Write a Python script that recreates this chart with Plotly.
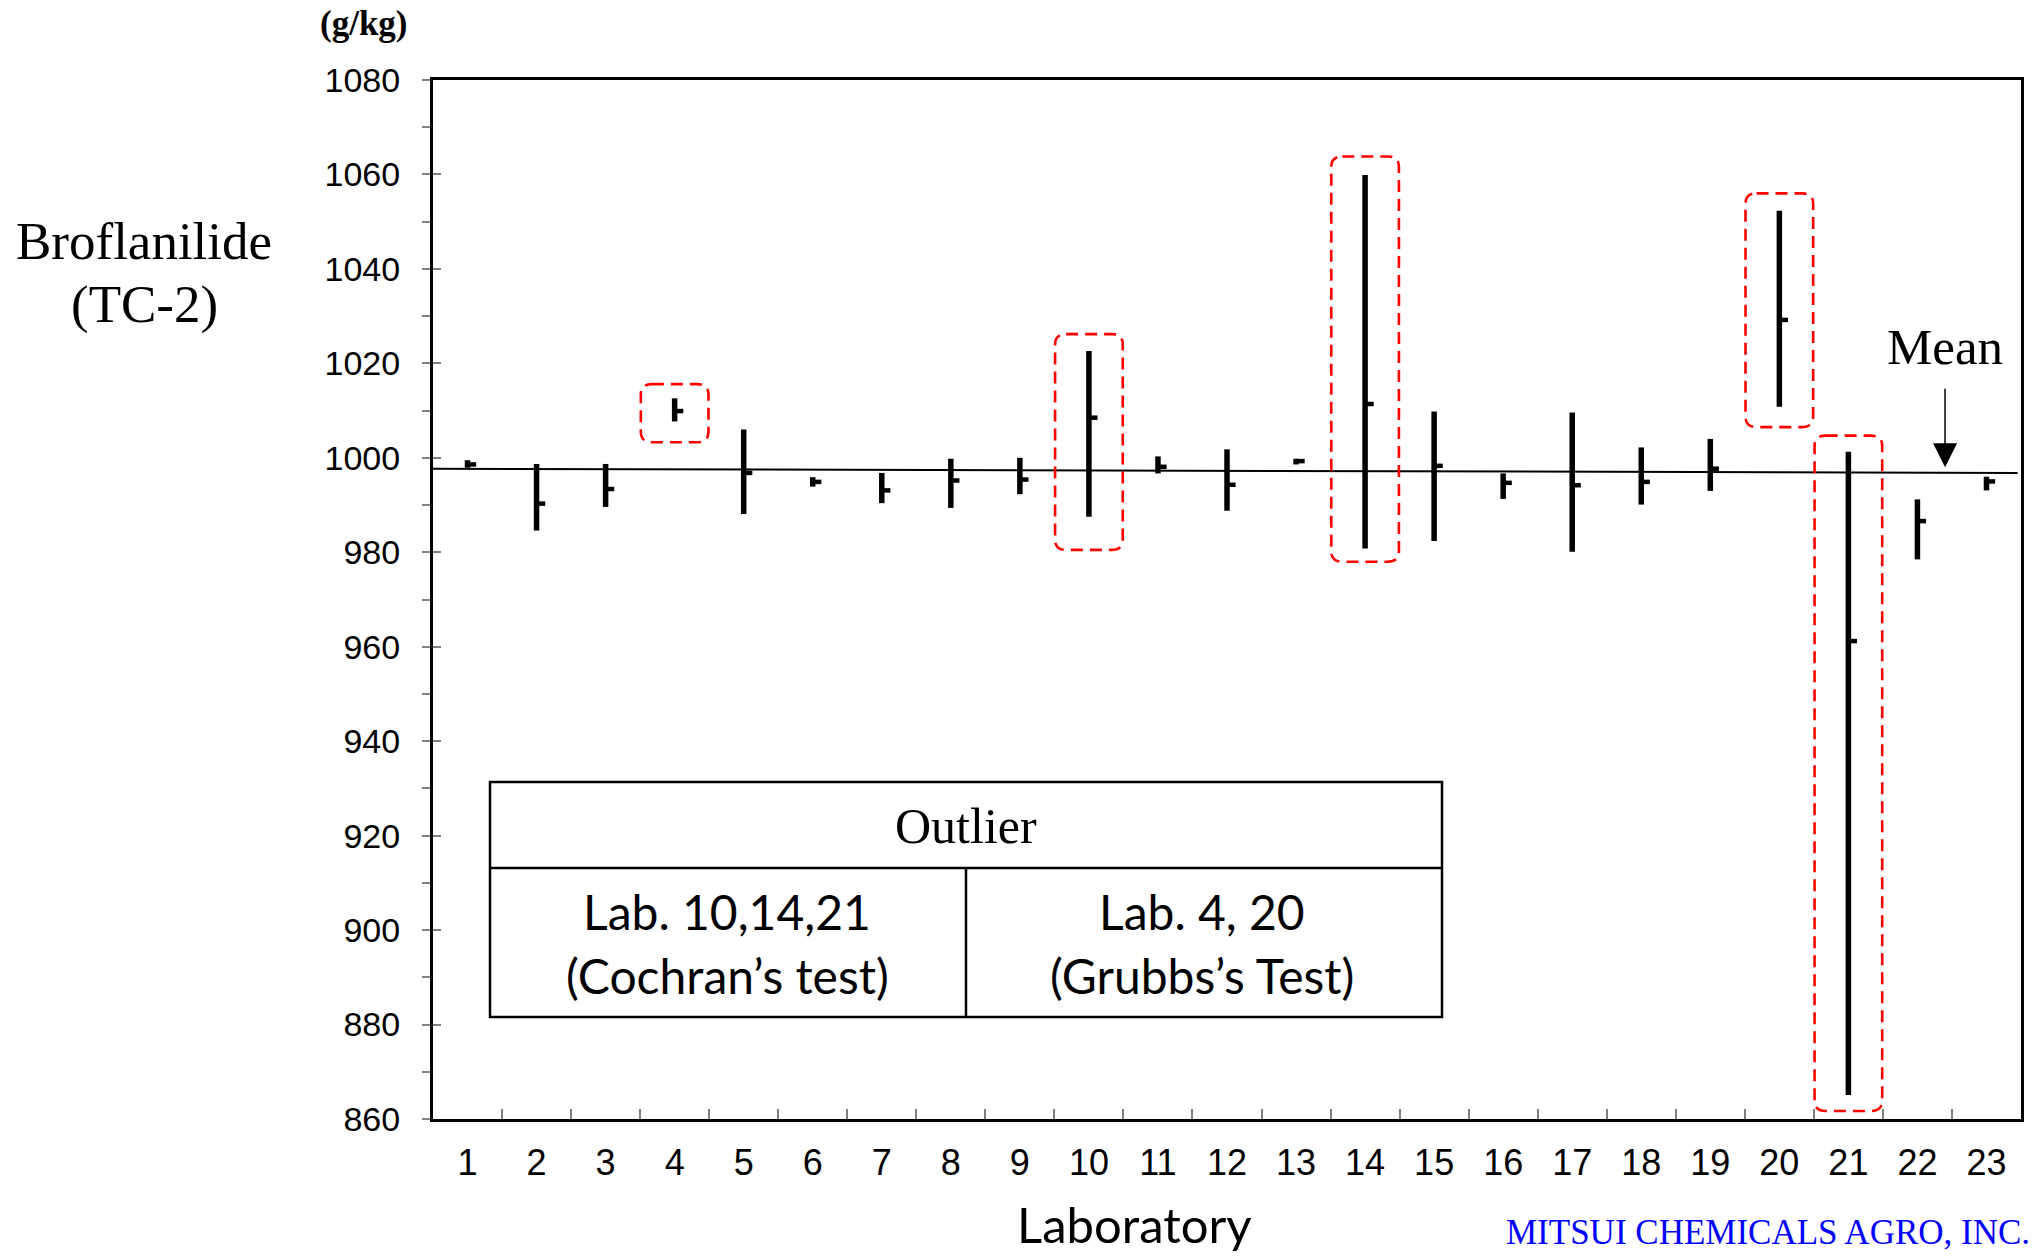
import plotly.graph_objects as go

# ---------------- data ----------------
labs = list(range(1, 24))
tick_labels = [str(i) for i in labs]
lab_max = [999.5, 998.7, 998.7, 1012.6, 1006.0, 995.9, 996.8, 999.8, 1000.0, 1022.6,
           1000.3, 1001.8, 999.8, 1059.9, 1009.8, 996.7, 1009.6, 1002.2, 1004.0, 1052.3,
           1001.3, 991.2, 996.0]
lab_min = [997.9, 984.6, 989.6, 1007.7, 988.1, 993.9, 990.4, 989.4, 992.3, 987.5,
           996.7, 988.8, 998.6, 980.8, 982.4, 991.3, 980.1, 990.1, 993.0, 1010.8,
           865.1, 978.5, 993.1]
lab_mean = [998.6, 990.3, 993.4, 1009.9, 996.8, 994.9, 993.1, 995.2, 995.4, 1008.5,
            998.1, 994.3, 999.3, 1011.4, 998.3, 994.7, 994.2, 994.9, 997.7, 1029.2,
            961.2, 986.6, 995.0]
grand_mean_ends = [997.7, 996.8]
mean_arrow_lab = 22.4
mean_arrow_tip = 998.0
outlier_labs = [4, 10, 14, 20, 21]
box_top = [1015.6, 1026.2, 1063.8, 1056.0, 1004.7]
box_bottom = [1003.3, 980.5, 978.0, 1006.5, 861.7]
y_ticks = list(range(860, 1081, 20))
cochran_labs = "Lab. 10,14,21"
grubbs_labs = "Lab. 4, 20"

# ---------------- geometry ----------------
W, H = 2044, 1256
L, R, T, B = 433, 23, 80, 137
PW, PH = W - L - R, H - T - B


def px(x):
    return (x - L) / PW


def py(y):
    return 1 - (y - T) / PH


TICK_LEN = 0.125
SERIF = "Liberation Serif"
SANS = "Liberation Sans"
HUMAN = "Lato"

fig = go.Figure()

# range bars
bx, by = [], []
for x, lo, hi in zip(labs, lab_min, lab_max):
    bx += [x, x, None]
    by += [lo, hi, None]
fig.add_trace(go.Scatter(x=bx, y=by, mode="lines", line=dict(color="black", width=5.5),
                         hoverinfo="skip", showlegend=False))

# mean ticks
tx, ty = [], []
for x, m in zip(labs, lab_mean):
    tx += [x, x + TICK_LEN, None]
    ty += [m, m, None]
fig.add_trace(go.Scatter(x=tx, y=ty, mode="lines", line=dict(color="black", width=4.5),
                         hoverinfo="skip", showlegend=False))

# grand mean line
fig.add_trace(go.Scatter(x=[0.5, 23.45], y=grand_mean_ends, mode="lines",
                         line=dict(color="black", width=2), hoverinfo="skip", showlegend=False))

# invisible trace for helper axes
fig.add_trace(go.Scatter(x=[1], y=[900], xaxis="x2", yaxis="y2", mode="markers",
                         marker=dict(opacity=0), hoverinfo="skip", showlegend=False))


def rounded(x0, x1, y0, y1, rx, ry):
    return (f"M {x0+rx},{y1} L {x1-rx},{y1} Q {x1},{y1} {x1},{y1-ry} "
            f"L {x1},{y0+ry} Q {x1},{y0} {x1-rx},{y0} L {x0+rx},{y0} "
            f"Q {x0},{y0} {x0},{y0+ry} L {x0},{y1-ry} Q {x0},{y1} {x0+rx},{y1} Z")


shapes = []
for lab, top, bot in zip(outlier_labs, box_top, box_bottom):
    shapes.append(dict(type="path", xref="x", yref="y",
                       path=rounded(lab - 0.49, lab + 0.49, bot, top, 0.16, 2.2),
                       line=dict(color="#FF0000", width=2.6, dash="12px,7px")))

# table
tx0, tx1 = px(490), px(1442)
ty0, ty1 = py(1017), py(782)
tmid = py(868)
tcx = px(966)
shapes.append(dict(type="rect", xref="paper", yref="paper", x0=tx0, x1=tx1, y0=ty0, y1=ty1,
                   line=dict(color="black", width=2.5), fillcolor="white"))
shapes.append(dict(type="line", xref="paper", yref="paper", x0=tx0, x1=tx1, y0=tmid, y1=tmid,
                   line=dict(color="black", width=2.5)))
shapes.append(dict(type="line", xref="paper", yref="paper", x0=tcx, x1=tcx, y0=ty0, y1=tmid,
                   line=dict(color="black", width=2.5)))


def txt(text, x, y, family, size, color="black", yanchor="middle"):
    return dict(text=text, x=x, y=y, xref="paper", yref="paper", xanchor="center",
                yanchor=yanchor, showarrow=False, align="center",
                font=dict(family=family, size=size, color=color))


annotations = [
    txt("Broflanilide", px(144), py(241), SERIF, 53),
    txt("(TC-2)", px(144), py(304), SERIF, 53),
    txt("<b>(g/kg)</b>", px(364), py(24), SERIF, 35),
    txt("Mean", px(1945), py(347), SERIF, 51),
    dict(text="", x=mean_arrow_lab, y=mean_arrow_tip, xref="x", yref="y", ax=0, ay=-80,
         showarrow=True, arrowhead=2, arrowsize=3.2, arrowwidth=1.5, arrowcolor="black"),
    txt("Laboratory", px(1134), py(1224), HUMAN, 49),
    txt("MITSUI CHEMICALS AGRO, INC.", px(1768), py(1254), SERIF, 35, "#0000FF", "bottom"),
    txt("Outlier", tcx, py(826), SERIF, 50),
    txt(cochran_labs, px(727), py(911), HUMAN, 48),
    txt("(Cochran\u2019s test)", px(727), py(975), HUMAN, 48),
    txt(grubbs_labs, px(1202), py(911), HUMAN, 48),
    txt("(Grubbs\u2019s Test)", px(1202), py(975), HUMAN, 48),
]

fig.update_layout(
    width=W, height=H, margin=dict(l=L, r=R, t=T, b=B),
    paper_bgcolor="white", plot_bgcolor="white", showlegend=False,
    xaxis=dict(range=[0.5, 23.5], tickvals=labs, ticktext=tick_labels, ticks="",
               showgrid=False, zeroline=False, showline=True, mirror=True, linewidth=3,
               linecolor="black", tickfont=dict(family=SANS, size=36, color="black"),
               ticklabelstandoff=10),
    yaxis=dict(range=[860, 1080], tickvals=y_ticks, ticks="outside", ticklen=8, tickwidth=1.5,
               tickcolor="#808080", showgrid=False, zeroline=False, showline=True, mirror=True,
               linewidth=3, linecolor="black", tickfont=dict(family=SANS, size=34, color="black"),
               minor=dict(ticks="outside", dtick=10, ticklen=8, tickwidth=1.5, tickcolor="#808080"),
               ticklabelstandoff=15),
    xaxis2=dict(range=[0.5, 23.5], overlaying="x", anchor="y2", side="bottom",
                tickvals=[i + 0.5 for i in labs[:-1]], ticks="inside", ticklen=10, tickwidth=1.5,
                tickcolor="#808080", showticklabels=False, showgrid=False, zeroline=False,
                showline=False),
    yaxis2=dict(range=[860, 1080], overlaying="y", anchor="x2", side="left",
                tickvals=y_ticks, ticks="inside", ticklen=8, tickwidth=1.5, tickcolor="#808080",
                showticklabels=False, showgrid=False, zeroline=False, showline=False),
    shapes=shapes, annotations=annotations,
)

fig.write_html("out.html")
